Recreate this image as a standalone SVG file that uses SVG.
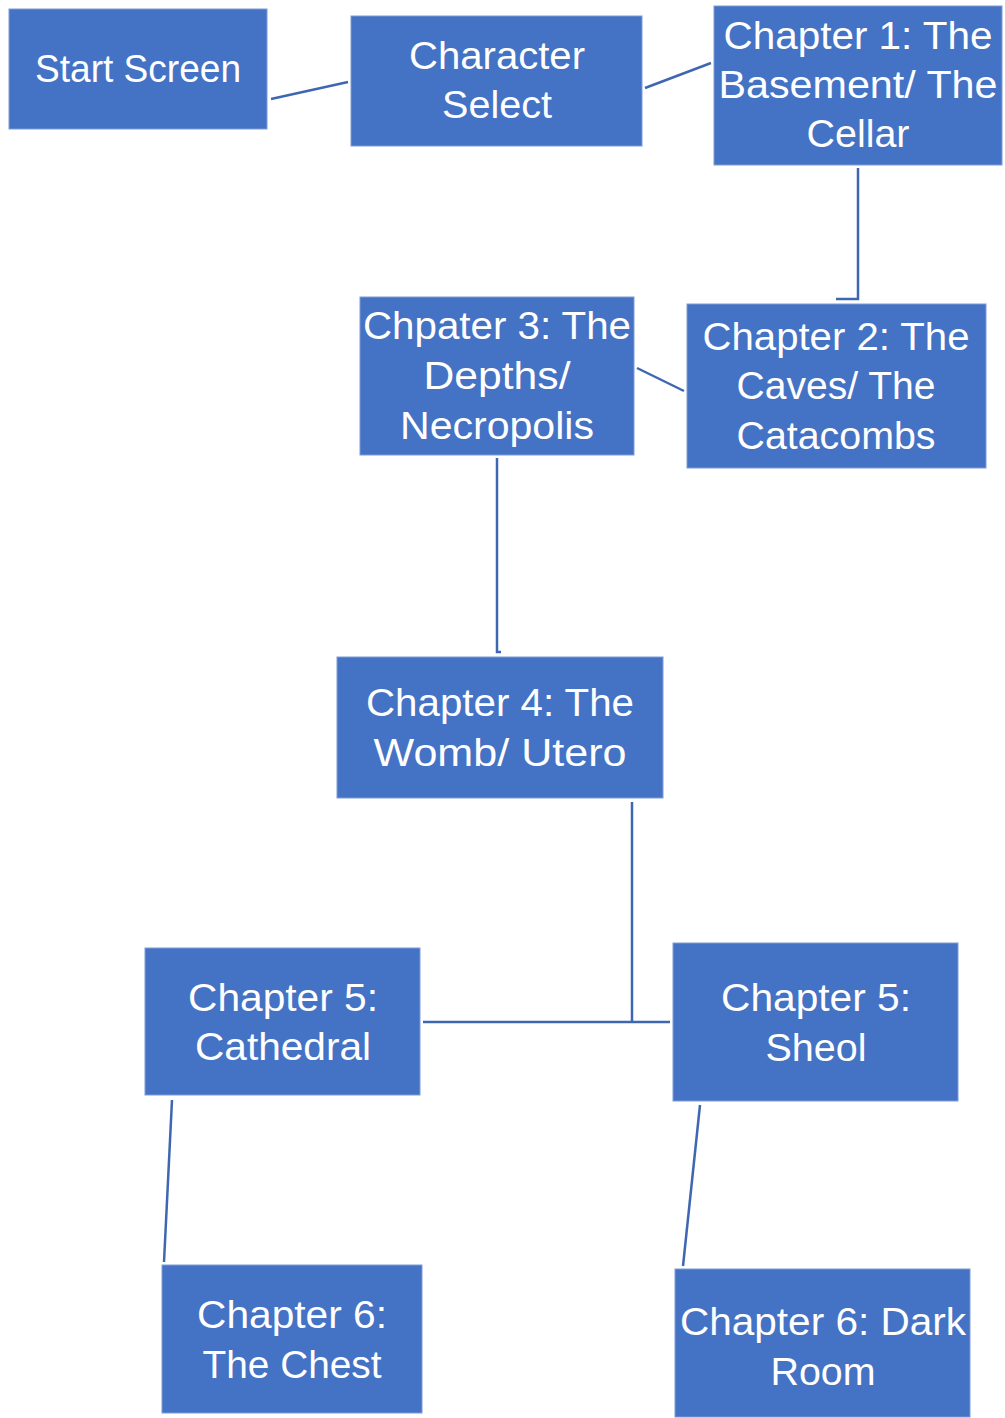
<svg xmlns="http://www.w3.org/2000/svg" width="1005" height="1418" viewBox="0 0 1005 1418">
<style>
.box{fill:#4472C4;stroke:#7d9bd6;stroke-width:1}
.t{font-family:"Liberation Sans",Arial,sans-serif;font-size:38px;fill:#ffffff;text-anchor:middle}
.c{stroke:#3F67B1;stroke-width:2.5;fill:none}
</style>
<rect width="1005" height="1418" fill="#ffffff"/>
<g id="connectors">
<line class="c" x1="271" y1="99" x2="348" y2="82"/>
<line class="c" x1="645" y1="88" x2="711" y2="63"/>
<polyline class="c" points="858,168 858,299 836,299"/>
<line class="c" x1="684" y1="391" x2="637" y2="368"/>
<polyline class="c" points="497,458 497,652 501,652"/>
<line class="c" x1="632" y1="802" x2="632" y2="1022"/>
<line class="c" x1="423" y1="1022" x2="670" y2="1022"/>
<line class="c" x1="172" y1="1100" x2="164" y2="1262"/>
<line class="c" x1="700" y1="1105" x2="683" y2="1266"/>
</g>
<g id="start">
<rect class="box" x="9" y="9" width="258" height="120"/>
<text class="t" x="138" y="82" textLength="206" lengthAdjust="spacingAndGlyphs">Start Screen</text>
</g>
<g id="charselect">
<rect class="box" x="351" y="16" width="291" height="130"/>
<text class="t" x="497" y="69" textLength="176" lengthAdjust="spacingAndGlyphs">Character</text>
<text class="t" x="497" y="118" textLength="110" lengthAdjust="spacingAndGlyphs">Select</text>
</g>
<g id="ch1">
<rect class="box" x="714" y="6" width="288" height="159"/>
<text class="t" x="858" y="49" textLength="269" lengthAdjust="spacingAndGlyphs">Chapter 1: The</text>
<text class="t" x="858" y="98" textLength="279" lengthAdjust="spacingAndGlyphs">Basement/ The</text>
<text class="t" x="858" y="147" textLength="103" lengthAdjust="spacingAndGlyphs">Cellar</text>
</g>
<g id="ch2">
<rect class="box" x="687" y="304" width="299" height="164"/>
<text class="t" x="836" y="350" textLength="267" lengthAdjust="spacingAndGlyphs">Chapter 2: The</text>
<text class="t" x="836" y="399" textLength="199" lengthAdjust="spacingAndGlyphs">Caves/ The</text>
<text class="t" x="836" y="449" textLength="199" lengthAdjust="spacingAndGlyphs">Catacombs</text>
</g>
<g id="ch3">
<rect class="box" x="360" y="297" width="274" height="158"/>
<text class="t" x="497" y="339" textLength="268" lengthAdjust="spacingAndGlyphs">Chpater 3: The</text>
<text class="t" x="497" y="389" textLength="147" lengthAdjust="spacingAndGlyphs">Depths/</text>
<text class="t" x="497" y="439" textLength="194" lengthAdjust="spacingAndGlyphs">Necropolis</text>
</g>
<g id="ch4">
<rect class="box" x="337" y="657" width="326" height="141"/>
<text class="t" x="500" y="716" textLength="268" lengthAdjust="spacingAndGlyphs">Chapter 4: The</text>
<text class="t" x="500" y="766" textLength="253" lengthAdjust="spacingAndGlyphs">Womb/ Utero</text>
</g>
<g id="ch5cathedral">
<rect class="box" x="145" y="948" width="275" height="147"/>
<text class="t" x="283" y="1011" textLength="190" lengthAdjust="spacingAndGlyphs">Chapter 5:</text>
<text class="t" x="283" y="1060" textLength="176" lengthAdjust="spacingAndGlyphs">Cathedral</text>
</g>
<g id="ch5sheol">
<rect class="box" x="673" y="943" width="285" height="158"/>
<text class="t" x="816" y="1011" textLength="190" lengthAdjust="spacingAndGlyphs">Chapter 5:</text>
<text class="t" x="816" y="1061" textLength="101" lengthAdjust="spacingAndGlyphs">Sheol</text>
</g>
<g id="ch6chest">
<rect class="box" x="162" y="1265" width="260" height="148"/>
<text class="t" x="292" y="1328" textLength="190" lengthAdjust="spacingAndGlyphs">Chapter 6:</text>
<text class="t" x="292" y="1378" textLength="179" lengthAdjust="spacingAndGlyphs">The Chest</text>
</g>
<g id="ch6darkroom">
<rect class="box" x="675" y="1269" width="295" height="148"/>
<text class="t" x="823" y="1335" textLength="286" lengthAdjust="spacingAndGlyphs">Chapter 6: Dark</text>
<text class="t" x="823" y="1385" textLength="105" lengthAdjust="spacingAndGlyphs">Room</text>
</g>
</svg>
